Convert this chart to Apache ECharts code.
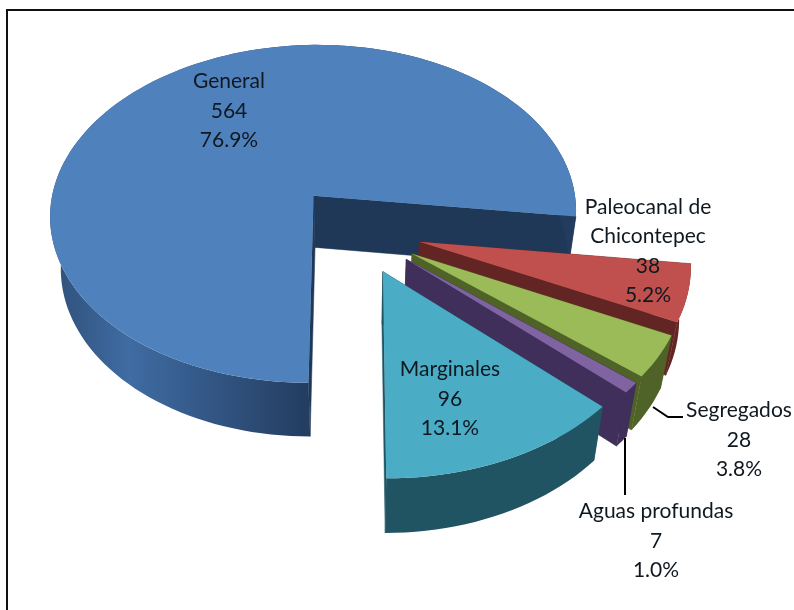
<!DOCTYPE html>
<html>
<head>
<meta charset="utf-8">
<style>
  html, body { margin: 0; padding: 0; background: #fff; }
  #chart { width: 794px; height: 610px; }
</style>
<script src="https://cdn.jsdelivr.net/npm/echarts@6/dist/echarts.min.js"></script>
</head>
<body>
<div id="chart"></div>
<script>
// data
const names = ['General', 'Paleocanal de\nChicontepec', 'Segregados', 'Aguas profundas', 'Marginales'];
const values = [564, 38, 28, 7, 96];

// colours per slice
const topColors = ['#4f81bd', '#c0504d', '#9bbb59', '#8064a2', '#4bacc6'];
const faceColors = ['#1f3858', '#632523', '#4f6228', '#3f2f5a', '#215462'];
const wallColors = [null, '#632523', '#4f6228', '#3f2f5a', '#215462'];

// label block centres in pixels
const labelX = [229, 648, 739, 656, 450];
const labelY = [111, 251, 440, 541, 399];

// the pie plane is projected by hand because echarts has no 3d pie without gl
const cx = 356, cy = 229;
const sx = 267, sy = 174.2, persp = 0.109;
const explodeU = 0.245, explodeV = 0.26;
const depth = 52, bottomShrink = 0.965;
const startAngle = 180;

function project(u, v) {
    const w = 1 - persp * v;
    return [cx + sx * u / w, cy + sy * v / w];
}

function projectBottom(u, v) {
    const p = project(u, v);
    return [cx + (p[0] - cx) * bottomShrink, p[1] + depth * (1 + 0.04 * v)];
}

const total = values.reduce((a, b) => a + b, 0);

function sliceAngles(index) {
    let from = startAngle;
    for (let i = 0; i < index; i++) from += values[i] / total * 360;
    return [from, from + values[index] / total * 360];
}

function renderSlice(params) {
    const i = params.dataIndex;
    const [from, to] = sliceAngles(i);
    const mid = (from + to) / 2 * Math.PI / 180;
    const ou = explodeU * Math.sin(mid), ov = -explodeV * Math.cos(mid);

    const arcUv = [];
    const steps = Math.max(4, Math.ceil((to - from) / 2));
    for (let s = 0; s <= steps; s++) {
        const a = (from + (to - from) * s / steps) * Math.PI / 180;
        arcUv.push([ou + Math.sin(a), ov - Math.cos(a)]);
    }
    const topArc = arcUv.map(p => project(p[0], p[1]));
    const bottomArc = arcUv.map(p => projectBottom(p[0], p[1]));
    const apexTop = project(ou, ov);
    const apexBottom = projectBottom(ou, ov);

    const wallFill = wallColors[i] || new echarts.graphic.LinearGradient(50, 0, 313, 0, [
        { offset: 0, color: '#2f4f78' },
        { offset: 0.3, color: '#3f6ca3' },
        { offset: 0.7, color: '#2f507c' },
        { offset: 1, color: '#233c5e' }
    ], true);

    const last = arcUv.length - 1;
    return {
        type: 'group',
        children: [
            {
                type: 'polygon',
                shape: { points: [apexTop, topArc[0], bottomArc[0], apexBottom] },
                style: { fill: faceColors[i], stroke: faceColors[i], lineWidth: 0.5 }
            },
            {
                type: 'polygon',
                shape: { points: [apexTop, topArc[last], bottomArc[last], apexBottom] },
                style: { fill: faceColors[i], stroke: faceColors[i], lineWidth: 0.5 }
            },
            {
                type: 'polygon',
                shape: { points: topArc.concat(bottomArc.slice().reverse()) },
                style: { fill: wallFill }
            },
            {
                type: 'polygon',
                shape: { points: [apexTop].concat(topArc) },
                style: { fill: topColors[i] }
            }
        ]
    };
}

function renderLabel(params) {
    const i = params.dataIndex;
    const pct = (values[i] / total * 100).toFixed(1) + '%';
    return {
        type: 'text',
        style: {
            x: labelX[i],
            y: labelY[i],
            text: names[i] + '\n' + values[i] + '\n' + pct,
            textAlign: 'center',
            textVerticalAlign: 'middle',
            fill: '#10181f',
            font: '21px Lato, sans-serif',
            lineHeight: 29.5
        }
    };
}

const chart = echarts.init(document.getElementById('chart'), null, { renderer: 'canvas' });

chart.setOption({
    animation: false,
    backgroundColor: '#ffffff',
    graphic: [
        {
            type: 'rect',
            shape: { x: 7, y: 10, width: 800, height: 620 },
            style: { fill: 'none', stroke: '#111111', lineWidth: 2 },
            z: 0
        },
        {
            // leader lines
            type: 'polyline',
            shape: { points: [[653, 407], [668, 417], [683, 417]] },
            style: { stroke: '#000000', lineWidth: 2, fill: 'none' },
            z: 10
        },
        {
            type: 'line',
            shape: { x1: 625, y1: 438, x2: 625, y2: 495 },
            style: { stroke: '#000000', lineWidth: 2 },
            z: 10
        }
    ],
    series: [
        {
            type: 'custom',
            coordinateSystem: 'none',
            silent: true,
            z: 2,
            renderItem: renderSlice,
            data: values
        },
        {
            type: 'custom',
            coordinateSystem: 'none',
            silent: true,
            z: 3,
            renderItem: renderLabel,
            data: values
        }
    ]
});
</script>
</body>
</html>
